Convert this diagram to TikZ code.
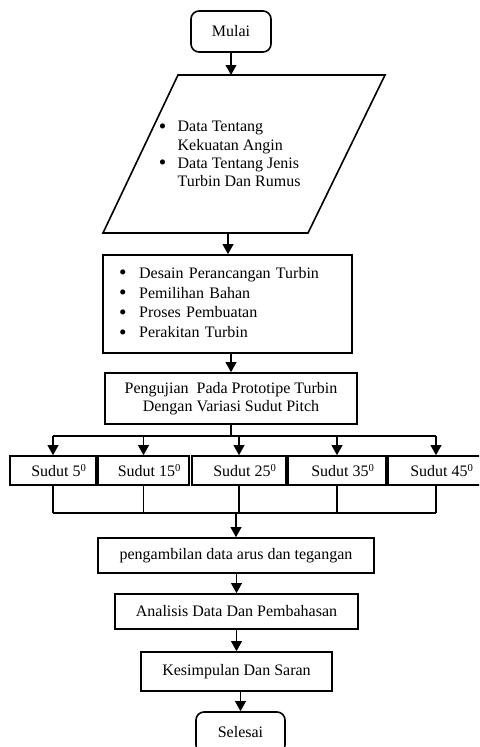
\documentclass[tikz,border=0pt]{standalone}
\usepackage{fontspec}
\setmainfont{Liberation Serif}
\usetikzlibrary{arrows.meta, positioning, calc}
\tikzset{
  every picture/.style={line width=1.2pt, x=0.75pt, y=-0.75pt},
  box/.style={draw, rectangle, align=center, inner sep=0pt, font=\fontsize{12}{13.5}\selectfont},
  term/.style={box, rounded corners=6pt},
  arrow/.style={-{Triangle[length=7.5pt, width=8pt]}},
}
\newcommand{\blt}{\smash{\raisebox{-1.2pt}{\fontsize{16}{16}\selectfont\textbullet}}}

\begin{document}
\begin{tikzpicture}
  \useasboundingbox (0,0) rectangle (479,747);
  \clip (0,0) rectangle (479,747);
  % start and input
  \node[term, minimum width=60pt, minimum height=30.75pt] (mulai) at (231,31.5) {Mulai};
  \draw (178,75) -- (385,75) -- (308,233) -- (103,233) -- cycle;
  \coordinate (dtop) at (231,75);
  \coordinate (dbot) at (228,233);
  \node[anchor=west, inner sep=0pt, font=\fontsize{12}{13.7}\selectfont] (data) at (158,155.5)
    {\begin{tabular}{@{}l@{\hspace{8.5pt}}l@{}}
      \blt & Data Tentang\\
           & Kekuatan Angin\\
      \blt & Data Tentang Jenis\\
           & Turbin Dan Rumus
    \end{tabular}};
  \draw[arrow] (mulai) -- (dtop);
  % design and test
  \node[box, align=left, inner xsep=12pt, text width=162.75pt, minimum height=73.5pt,
        font=\fontsize{12}{14.8}\selectfont] (desain) at (227.5,304)
    {\begin{tabular}{@{}l@{\hspace{9.5pt}}l@{}}
      \blt & Desain Perancangan Turbin\\
      \blt & Pemilihan Bahan\\
      \blt & Proses Pembuatan\\
      \blt & Perakitan Turbin
    \end{tabular}};
  \draw[arrow] (dbot) -- (dbot |- desain.north);
  \node[box, minimum width=189pt, minimum height=38.25pt] (uji) at (231,398.5)
    {Pengujian\ \ Pada Prototipe Turbin\\Dengan Variasi Sudut Pitch};
  \draw[arrow] (uji |- desain.south) -- (uji);
  % pitch angle variations
  \foreach \i/\x/\w/\a in {1/53/64.5/5, 2/143.5/68.25/15, 3/239/70.5/25, 4/337/73.5/35, 5/436/72/45}
    \node[box, minimum width=\w pt, minimum height=21.75pt] (s\i) at (\x,470.5)
      {\hspace*{9pt}Sudut \a\textsuperscript{0}};
  \coordinate (split) at (231,436);
  \coordinate (merge) at (236,513);
  \draw (uji) -- (split);
  \draw (s1.north |- split) -- (s5.north |- split);
  \draw (s1.south |- merge) -- (s5.south |- merge);
  \foreach \i in {1,...,5} {
    \draw[arrow] (s\i.north |- split) -- (s\i);
    \draw (s\i) -- (s\i.south |- merge);
  }
  % data and conclusion
  \node[box, minimum width=207pt, minimum height=26.25pt] (ambil) at (236,555.5)
    {pengambilan data arus dan tegangan};
  \draw[arrow] (merge) -- (ambil);
  \node[box, minimum width=182.25pt, minimum height=26.25pt] (analisis) at (236.5,611.5)
    {Analisis Data Dan Pembahasan};
  \draw[arrow] (analisis |- ambil.south) -- (analisis);
  \node[box, minimum width=143.25pt, minimum height=29.25pt] (simpul) at (236.5,671.5)
    {Kesimpulan Dan Saran};
  \draw[arrow] (analisis) -- (simpul);
  \node[term, minimum width=66.75pt, minimum height=30.75pt] (selesai) at (240.5,732.5) {Selesai};
  \draw[arrow] (selesai |- simpul.south) -- (selesai);
\end{tikzpicture}
\end{document}
